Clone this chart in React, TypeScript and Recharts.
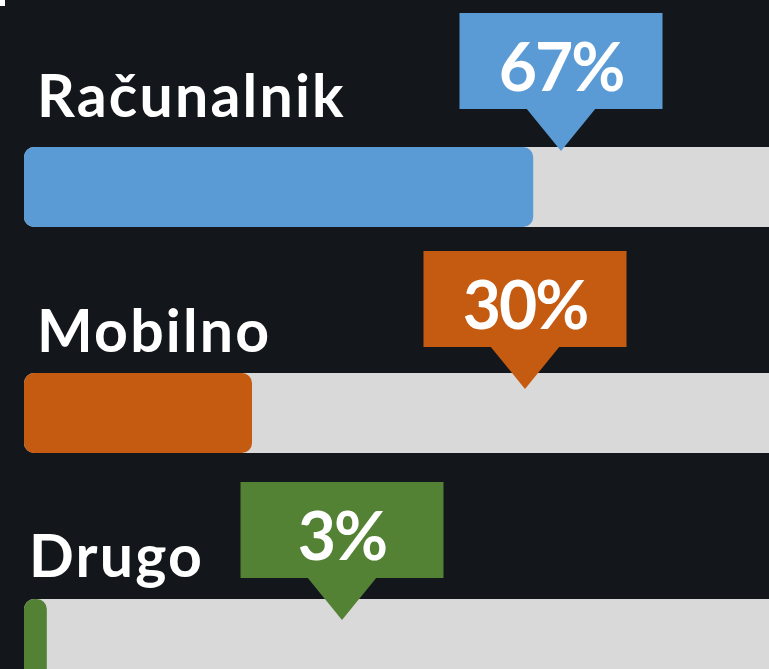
import React from 'react';
import { BarChart, Bar, XAxis, YAxis, Rectangle } from 'recharts';

const CATEGORIES = ['Računalnik', 'Mobilno', 'Drugo'];
const SHARES = [67, 30, 3];
const COLORS = ['#5b9bd5', '#c55a11', '#548235'];

// per-row placement of the label and the callout box
const ROW_LAYOUT = [
    { labelX: 37, labelDy: -30, tipX: 561, boxDy: -134 },
    { labelX: 37, labelDy: -21, tipX: 525, boxDy: -122 },
    { labelX: 29, labelDy: -22, tipX: 342, boxDy: -117 },
];

const BG = '#13161b';
const TRACK = '#d9d9d9';
const FONT = 'Lato, "Open Sans", sans-serif';

const data = CATEGORIES.map((name, i) => ({ name, value: SHARES[i] }));

const BarWithCallout = (props: any) => {
    const { x, y, width, height, payload } = props;
    const i = CATEGORIES.indexOf(payload?.name ?? props.name);
    const row = ROW_LAYOUT[i];
    const color = COLORS[i];
    const boxW = 203;
    const boxH = 96;
    const boxTop = y + row.boxDy;
    const boxBottom = boxTop + boxH;
    const tipY = boxBottom + 42;
    return (
        <g>
            <Rectangle x={x} y={y} width={width} height={height} radius={10} fill={color} />
            <text
                x={row.labelX}
                y={y + row.labelDy}
                fill="#ffffff"
                fontFamily={FONT}
                fontWeight={700}
                fontSize={59}
                letterSpacing={2.2}
            >
                {payload?.name}
            </text>
            <rect x={row.tipX - boxW / 2} y={boxTop} width={boxW} height={boxH} fill={color} />
            <polygon
                points={`${row.tipX - 35},${boxBottom - 1} ${row.tipX + 35},${boxBottom - 1} ${row.tipX},${tipY}`}
                fill={color}
            />
            <text
                x={row.tipX}
                y={boxTop + 78}
                textAnchor="middle"
                fill="#ffffff"
                fontFamily={FONT}
                fontWeight={700}
                fontSize={66}
                letterSpacing={-2}
            >
                {`${payload?.value}%`}
            </text>
        </g>
    );
};

const App: React.FC = () => {
    return (
        <div style={{ position: 'fixed', left: 0, top: 0, width: 769, height: 669, overflow: 'hidden', background: BG }}>
            <div style={{ position: 'absolute', left: 0, top: 0, width: 5, height: 6, background: '#ffffff' }} />
            <BarChart
                layout="vertical"
                width={800}
                height={752}
                data={data}
                margin={{ top: 74, right: 16, bottom: 0, left: 24 }}
            >
                <XAxis type="number" domain={[0, 100]} hide />
                <YAxis type="category" dataKey="name" hide />
                <Bar
                    dataKey="value"
                    barSize={80}
                    background={{ fill: TRACK, radius: 10 } as any}
                    shape={BarWithCallout}
                    isAnimationActive={false}
                />
            </BarChart>
        </div>
    );
};

export default App;
